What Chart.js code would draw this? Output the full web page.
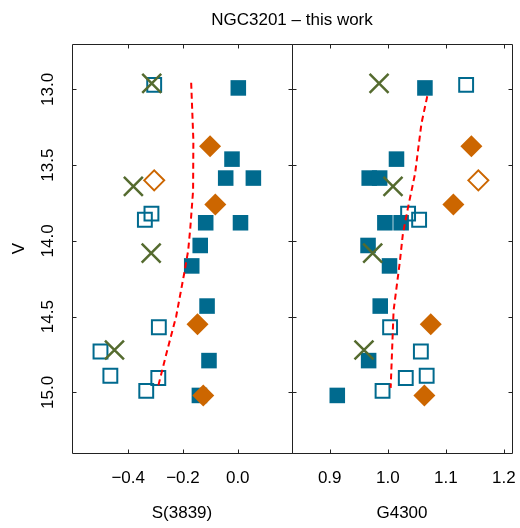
<!DOCTYPE html>
<html>
<head>
<meta charset="utf-8">
<script src="https://cdn.jsdelivr.net/npm/chart.js@4.4.1/dist/chart.umd.min.js"></script>
<style>
  html, body { margin: 0; padding: 0; background: #fff; }
  #wrap { width: 520px; height: 528px; }
</style>
</head>
<body>
<div id="wrap"><canvas id="chart" width="520" height="528"></canvas></div>
<script>
// --- data (V magnitude, S(3839) index, G4300 index) ---
const filledV = [12.99, 13.46, 13.585, 13.585, 13.88, 13.88, 14.03, 14.165, 14.43, 14.79, 15.02];
const filledS = [0.002, -0.021, -0.044, 0.057, -0.117, 0.010, -0.137, -0.168, -0.112, -0.105, -0.140];
const filledG = [1.064, 1.015, 0.968, 0.986, 0.995, 1.023, 0.966, 1.003, 0.987, 0.967, 0.913];

const openV = [12.97, 13.82, 13.86, 14.57, 14.73, 14.89, 14.905, 14.99];
const openS = [-0.305, -0.315, -0.339, -0.288, -0.501, -0.465, -0.290, -0.334];
const openG = [1.135, 1.035, 1.054, 1.004, 1.057, 1.067, 1.031, 0.991];

const diamondV = [13.375, 13.76, 14.55, 15.02];
const diamondS = [-0.101, -0.082, -0.147, -0.126];
const diamondG = [1.144, 1.113, 1.074, 1.063];

const openDiamondV = [13.60];
const openDiamondS = [-0.305];
const openDiamondG = [1.156];

const crossV = [12.96, 13.64, 14.08, 14.72];
const crossS = [-0.314, -0.381, -0.316, -0.450];
const crossG = [0.985, 1.009, 0.974, 0.959];

// dashed model curves
const modelSV = [12.956, 13.336, 13.667, 13.91, 14.064, 14.22, 14.5, 14.72, 14.97];
const modelS  = [-0.170, -0.162, -0.163, -0.173, -0.181, -0.196, -0.225, -0.257, -0.292];
const modelGV = [13.045, 13.225, 13.556, 13.777, 13.954, 14.13, 14.46, 14.97];
const modelG  = [1.068, 1.058, 1.047, 1.035, 1.026, 1.021, 1.010, 1.005];

const yTicks = [13.0, 13.5, 14.0, 14.5, 15.0];
const sTicks = [-0.4, -0.2, 0.0];
const gTicks = [0.9, 1.0, 1.1, 1.2];

// --- helpers ---
const FONT = 'Liberation Sans, Arial, Helvetica, sans-serif';
const TEAL = '#006a8e';
const ORANGE = '#cc6600';
const OLIVE = '#556b2f';
const TICK = 4;

const pts = (xs, ys) => xs.map((x, i) => ({ x: x, y: ys[i] }));
const fmt = v => (v < 0 ? '\u2212' : '') + Math.abs(v).toFixed(1);
const fixTicks = list => scale => { scale.ticks = list.map(v => ({ value: v })); };

// frame round each panel with inward ticks on all four sides
const panelFrame = {
  id: 'panelFrame',
  beforeDatasetsDraw(chart) {
    const { ctx, chartArea: a, scales } = chart;
    const y = scales.y;
    const snap = v => Math.round(v) + 0.5;
    ctx.save();
    ctx.strokeStyle = '#222';
    ctx.lineWidth = 1;
    ctx.beginPath();
    ['x1', 'x2'].forEach(id => {
      const s = scales[id];
      const l = snap(s.left), r = snap(s.right), t = snap(a.top), b = snap(a.bottom);
      ctx.rect(l, t, r - l, b - t);
      s.ticks.forEach(tk => {
        const px = snap(s.getPixelForValue(tk.value));
        ctx.moveTo(px, b); ctx.lineTo(px, b - TICK);
        ctx.moveTo(px, t); ctx.lineTo(px, t + TICK);
      });
      y.ticks.forEach(tk => {
        const py = snap(y.getPixelForValue(tk.value));
        ctx.moveTo(l, py); ctx.lineTo(l + TICK, py);
        ctx.moveTo(r, py); ctx.lineTo(r - TICK, py);
      });
    });
    ctx.stroke();
    ctx.restore();
  }
};

// tick marks are hidden (grid off); tickLength only sets the label gap
const xAxis = (min, max, list, title) => ({
  type: 'linear',
  position: 'bottom',
  stack: 'panels',
  stackWeight: 1,
  min: min,
  max: max,
  afterBuildTicks: fixTicks(list),
  afterFit: s => { s.height = 75; },
  grid: { display: false, drawTicks: true, tickLength: 15 },
  border: { display: false },
  ticks: { padding: 0, color: '#000', font: { family: FONT, size: 17 }, callback: v => fmt(v), autoSkip: false, maxRotation: 0 },
  title: { display: true, text: title, color: '#000', font: { family: FONT, size: 17 }, padding: { top: 0, bottom: 4 } }
});

const squareSet = (xs, ys, axis, filled) => ({
  data: pts(xs, ys),
  xAxisID: axis,
  pointStyle: 'rect',
  pointRadius: filled ? 11 : 9.8,
  borderWidth: filled ? 0 : 2,
  backgroundColor: filled ? TEAL : 'rgba(0,0,0,0)',
  borderColor: TEAL,
  order: filled ? 4 : 3
});

const diamondSet = (xs, ys, axis, filled) => ({
  data: pts(xs, ys),
  xAxisID: axis,
  pointStyle: 'rectRot',
  pointRadius: filled ? 11 : 10,
  borderWidth: filled ? 0 : 2,
  backgroundColor: filled ? ORANGE : 'rgba(0,0,0,0)',
  borderColor: ORANGE,
  order: 2
});

const crossSet = (xs, ys, axis) => ({
  data: pts(xs, ys),
  xAxisID: axis,
  pointStyle: 'crossRot',
  pointRadius: 13.4,
  borderWidth: 2.5,
  borderColor: OLIVE,
  backgroundColor: OLIVE,
  order: 1
});

const modelSet = (xs, ys, axis) => ({
  data: pts(xs, ys),
  xAxisID: axis,
  showLine: true,
  pointRadius: 0,
  borderColor: '#ff0000',
  borderWidth: 2,
  borderDash: [6, 4],
  fill: false,
  tension: 0,
  order: 0
});

new Chart(document.getElementById('chart'), {
  type: 'scatter',
  data: {
    datasets: [
      squareSet(filledS, filledV, 'x1', true),
      squareSet(filledG, filledV, 'x2', true),
      squareSet(openS, openV, 'x1', false),
      squareSet(openG, openV, 'x2', false),
      diamondSet(diamondS, diamondV, 'x1', true),
      diamondSet(diamondG, diamondV, 'x2', true),
      diamondSet(openDiamondS, openDiamondV, 'x1', false),
      diamondSet(openDiamondG, openDiamondV, 'x2', false),
      crossSet(crossS, crossV, 'x1'),
      crossSet(crossG, crossV, 'x2'),
      modelSet(modelS, modelSV, 'x1'),
      modelSet(modelG, modelGV, 'x2')
    ]
  },
  options: {
    responsive: false,
    animation: false,
    devicePixelRatio: 1,
    layout: { autoPadding: false, padding: { left: 0, right: 8, top: 0, bottom: 0 } },
    plugins: {
      legend: { display: false },
      tooltip: { enabled: false },
      title: {
        display: true,
        text: 'NGC3201 \u2013 this work',
        fullSize: false,
        color: '#000',
        font: { family: FONT, size: 17, weight: 'normal' },
        padding: { top: 10, bottom: 13.6 }
      }
    },
    scales: {
      x1: xAxis(-0.605, 0.198, sTicks, 'S(3839)'),
      x2: xAxis(0.835, 1.214, gTicks, 'G4300'),
      y: {
        type: 'linear',
        position: 'left',
        reverse: true,
        min: 12.70,
        max: 15.40,
        afterBuildTicks: fixTicks(yTicks),
        afterFit: s => { s.width = 72; },
        grid: { display: false, drawTicks: true, tickLength: 7.5 },
        border: { display: false },
        ticks: {
          padding: 0,
          minRotation: 90,
          maxRotation: 90,
          crossAlign: 'center',
          color: '#000',
          font: { family: FONT, size: 17 },
          callback: v => fmt(v)
        },
        title: { display: true, text: 'V', color: '#000', font: { family: FONT, size: 17 }, padding: { top: 9, bottom: 0 } }
      }
    }
  },
  plugins: [panelFrame]
});
</script>
</body>
</html>
